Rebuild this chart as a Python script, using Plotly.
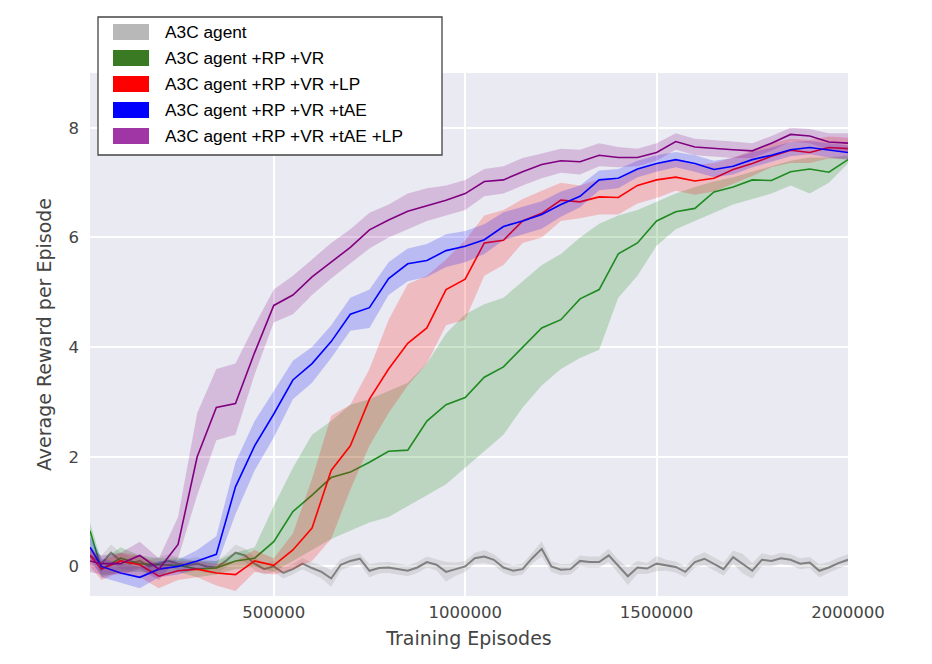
import plotly.graph_objects as go

# training steps (x) shared by the coloured runs, finer grid for the baseline
steps = [20000] + list(range(50000, 2000001, 50000))
steps_fine = [20000] + list(range(50000, 2000001, 25000))

# A3C agent (baseline) - mean and band half width
a3c_mean = [0.2, 0.05, 0.25, 0.1, 0.05, 0.1, 0.0, 0.05, 0.1, 0.05,
            0.02, 0.05, 0.0, -0.02, 0.1, 0.25, 0.2, 0.05, -0.05, 0.0,
            -0.12, -0.05, 0.05, -0.03, -0.1, -0.22, 0.03, 0.1, 0.14, -0.08,
            -0.03, -0.02, -0.05, -0.08, -0.02, 0.08, 0.03, -0.1, -0.05, 0.0,
            0.15, 0.18, 0.12, -0.02, -0.08, -0.05, 0.15, 0.32, 0.0, -0.06,
            -0.05, 0.1, 0.08, 0.08, 0.2, 0.0, -0.18, -0.02, -0.04, 0.05,
            0.02, -0.01, -0.1, 0.08, 0.14, 0.05, -0.05, 0.17, 0.05, -0.08,
            0.12, 0.1, 0.15, 0.12, 0.05, 0.07, -0.08, -0.02, 0.06, 0.12]
a3c_sd = [0.15, 0.15, 0.15, 0.15, 0.12, 0.12, 0.12, 0.12, 0.12, 0.12,
          0.12, 0.12, 0.12, 0.12, 0.12, 0.15, 0.12, 0.12, 0.1, 0.1,
          0.1, 0.1, 0.1, 0.1, 0.12, 0.15, 0.1, 0.1, 0.1, 0.12,
          0.1, 0.1, 0.1, 0.1, 0.1, 0.1, 0.1, 0.18, 0.12, 0.1,
          0.1, 0.12, 0.1, 0.1, 0.1, 0.1, 0.1, 0.14, 0.1, 0.1,
          0.1, 0.1, 0.1, 0.1, 0.12, 0.12, 0.16, 0.12, 0.1, 0.14,
          0.1, 0.1, 0.1, 0.1, 0.12, 0.12, 0.12, 0.12, 0.18, 0.14,
          0.12, 0.1, 0.1, 0.1, 0.1, 0.1, 0.12, 0.1, 0.1, 0.1]

# A3C agent +RP +VR
rpvr_mean = [0.65, -0.05, 0.15, 0.05, 0.03, 0.02, -0.05, -0.03, 0.1, 0.15,
             0.45, 1.0, 1.3, 1.62, 1.72, 1.9, 2.1, 2.12, 2.65, 2.95,
             3.08, 3.45, 3.64, 4.0, 4.35, 4.5, 4.88, 5.05, 5.7, 5.9,
             6.3, 6.47, 6.53, 6.83, 6.92, 7.05, 7.04, 7.2, 7.25, 7.19, 7.42]
rpvr_lo = [0.4, -0.2, -0.1, -0.1, -0.15, -0.1, -0.2, -0.15, -0.05, 0.0,
           -0.1, 0.1, 0.3, 0.5, 0.65, 0.8, 0.9, 1.1, 1.3, 1.5,
           1.8, 2.1, 2.4, 2.9, 3.3, 3.6, 3.8, 3.95, 4.9, 5.3,
           5.85, 6.15, 6.3, 6.45, 6.6, 6.7, 6.8, 6.95, 6.8, 7.0, 7.35]
rpvr_hi = [0.8, 0.1, 0.35, 0.2, 0.15, 0.15, 0.1, 0.1, 0.25, 0.35,
           1.1, 1.8, 2.4, 2.65, 2.95, 3.05, 3.2, 3.35, 3.7, 4.25,
           4.6, 4.78, 4.9, 5.2, 5.5, 5.7, 6.0, 6.25, 6.4, 6.5,
           6.65, 6.8, 6.92, 7.02, 7.1, 7.2, 7.3, 7.4, 7.46, 7.46, 7.5]

# A3C agent +RP +VR +LP
lp_mean = [0.2, -0.05, 0.1, 0.03, -0.18, -0.08, -0.05, -0.12, -0.15, 0.1,
           0.02, 0.3, 0.7, 1.75, 2.2, 3.05, 3.6, 4.07, 4.35, 5.05,
           5.24, 5.9, 5.95, 6.3, 6.44, 6.68, 6.65, 6.74, 6.73, 6.95,
           7.05, 7.1, 7.03, 7.08, 7.24, 7.35, 7.48, 7.59, 7.55, 7.64, 7.62]
lp_lo = [0.0, -0.25, -0.1, -0.2, -0.4, -0.25, -0.2, -0.35, -0.45, -0.1,
         -0.15, -0.05, 0.1, 0.5, 1.4, 2.2, 2.8, 3.3, 3.7, 4.4,
         4.5, 5.3, 5.5, 5.9, 6.0, 6.3, 6.35, 6.42, 6.42, 6.62,
         6.72, 6.85, 6.78, 6.84, 6.98, 7.12, 7.28, 7.36, 7.36, 7.44, 7.42]
lp_hi = [0.35, 0.1, 0.25, 0.2, 0.05, 0.1, 0.1, 0.05, 0.1, 0.3,
         0.15, 0.6, 1.6, 2.75, 2.95, 3.6, 4.5, 5.15, 5.3, 5.6,
         5.95, 6.4, 6.5, 6.7, 6.85, 7.0, 6.95, 7.06, 7.05, 7.25,
         7.35, 7.42, 7.32, 7.36, 7.46, 7.58, 7.72, 7.8, 7.78, 7.84, 7.82]

# A3C agent +RP +VR +tAE
tae_mean = [0.35, 0.0, -0.12, -0.2, -0.05, 0.0, 0.1, 0.22, 1.45, 2.2,
            2.78, 3.4, 3.7, 4.1, 4.6, 4.72, 5.25, 5.52, 5.58, 5.76,
            5.84, 5.96, 6.2, 6.3, 6.42, 6.6, 6.75, 7.05, 7.08, 7.25,
            7.35, 7.42, 7.35, 7.24, 7.3, 7.42, 7.5, 7.6, 7.64, 7.59, 7.55]
tae_lo = [0.15, -0.2, -0.3, -0.4, -0.2, -0.15, -0.05, 0.0, 0.95, 1.75,
          2.35, 3.05, 3.35, 3.8, 4.3, 4.35, 4.95, 5.2, 5.28, 5.46,
          5.55, 5.7, 5.95, 6.05, 6.16, 6.38, 6.55, 6.86, 6.9, 7.1,
          7.2, 7.28, 7.2, 7.1, 7.15, 7.28, 7.38, 7.48, 7.52, 7.46, 7.42]
tae_hi = [0.55, 0.15, 0.05, 0.0, 0.1, 0.12, 0.3, 0.55, 1.9, 2.65,
          3.2, 3.75, 4.0, 4.4, 4.9, 5.05, 5.55, 5.8, 5.88, 6.06,
          6.12, 6.24, 6.46, 6.56, 6.66, 6.84, 6.95, 7.22, 7.25, 7.4,
          7.5, 7.56, 7.5, 7.4, 7.45, 7.56, 7.64, 7.74, 7.76, 7.72, 7.68]

# A3C agent +RP +VR +tAE +LP
taelp_mean = [0.1, 0.05, 0.05, 0.2, -0.05, 0.4, 2.0, 2.9, 2.97, 3.9,
              4.76, 4.95, 5.28, 5.55, 5.82, 6.14, 6.32, 6.48, 6.58, 6.68,
              6.8, 7.02, 7.05, 7.2, 7.33, 7.4, 7.38, 7.5, 7.46, 7.46,
              7.55, 7.75, 7.65, 7.62, 7.6, 7.58, 7.72, 7.88, 7.85, 7.74, 7.72]
taelp_lo = [-0.1, -0.15, -0.15, -0.05, -0.25, 0.15, 1.3, 2.3, 2.4, 3.5,
            4.45, 4.6, 4.95, 5.25, 5.52, 5.8, 6.0, 6.15, 6.3, 6.4,
            6.5, 6.75, 6.8, 6.95, 7.08, 7.18, 7.15, 7.3, 7.28, 7.3,
            7.4, 7.6, 7.5, 7.48, 7.45, 7.45, 7.58, 7.75, 7.72, 7.6, 7.55]
taelp_hi = [0.3, 0.2, 0.25, 0.45, 0.15, 0.9, 2.8, 3.6, 3.7, 4.4,
            5.05, 5.3, 5.6, 5.9, 6.15, 6.45, 6.6, 6.8, 6.9, 6.95,
            7.05, 7.25, 7.3, 7.45, 7.53, 7.62, 7.6, 7.72, 7.65, 7.62,
            7.72, 7.9, 7.8, 7.78, 7.75, 7.72, 7.85, 8.0, 7.98, 7.9, 7.9]

labels = ["A3C agent", "A3C agent +RP +VR", "A3C agent +RP +VR +LP",
          "A3C agent +RP +VR +tAE", "A3C agent +RP +VR +tAE +LP"]
line_colors = ["#808080", "#1f8a1f", "#ff0000", "#0000ff", "#800080"]
band_colors = ["rgba(128,128,128,0.2)", "rgba(0,128,0,0.2)", "rgba(255,0,0,0.2)",
               "rgba(0,0,255,0.2)", "rgba(128,0,128,0.2)"]
patch_colors = ["#b8b8b8", "#3a7a22", "#ff0000", "#0000ff", "#a035a5"]

a3c_lo = [m - s for m, s in zip(a3c_mean, a3c_sd)]
a3c_hi = [m + s for m, s in zip(a3c_mean, a3c_sd)]

runs = [
    (steps_fine, a3c_mean, a3c_lo, a3c_hi),
    (steps, rpvr_mean, rpvr_lo, rpvr_hi),
    (steps, lp_mean, lp_lo, lp_hi),
    (steps, tae_mean, tae_lo, tae_hi),
    (steps, taelp_mean, taelp_lo, taelp_hi),
]

fig = go.Figure()
for i, (xs, mean, lo, hi) in enumerate(runs):
    fig.add_trace(go.Scatter(x=xs + xs[::-1], y=hi + lo[::-1], fill="toself",
                             fillcolor=band_colors[i], line=dict(width=0),
                             mode="lines", hoverinfo="skip", showlegend=False))
    fig.add_trace(go.Scatter(x=xs, y=mean, mode="lines", name=labels[i],
                             line=dict(color=line_colors[i],
                                       width=2 if i == 0 else 1.6),
                             showlegend=False))

# page puts the figure 8px in from the top-left corner, so margins allow for that
OFF = 8
L, R, T, B = 90, 848, 73, 596


def px(x):
    return (x - L) / (R - L)


def py(y):
    return (B - y) / (B - T)


shapes = [dict(type="rect", xref="paper", yref="paper", layer="above",
               x0=px(98), x1=px(442), y0=py(155), y1=py(17),
               fillcolor="white", line=dict(color="#444444", width=1.3))]
annotations = []
row_y = [32, 58, 84, 110, 136]
for i, lab in enumerate(labels):
    shapes.append(dict(type="rect", xref="paper", yref="paper", layer="above",
                       x0=px(113), x1=px(149), y0=py(row_y[i] + 8), y1=py(row_y[i] - 8),
                       fillcolor=patch_colors[i], line=dict(width=0)))
    annotations.append(dict(xref="paper", yref="paper", x=px(163), y=py(row_y[i]),
                            xanchor="left", yanchor="middle", text=lab, showarrow=False,
                            font=dict(family="Liberation Sans, Arial", size=17.3, color="black")))

fig.update_layout(
    width=932, height=664,
    margin=dict(l=L - OFF, r=932 - R + OFF, t=T - OFF, b=664 - B + OFF),
    paper_bgcolor="white", plot_bgcolor="#EAEAF2",
    font=dict(family="DejaVu Sans", size=16.5, color="#444444"),
    shapes=shapes, annotations=annotations,
    showlegend=False,
)
fig.update_xaxes(range=[20000, 2000000], tickvals=[500000, 1000000, 1500000, 2000000],
                 ticktext=["500000", "1000000", "1500000", "2000000"],
                 showgrid=True, gridcolor="white", gridwidth=1.5, zeroline=False,
                 showline=False, ticks="", ticklabelstandoff=4,
                 title=dict(text="Training Episodes", font=dict(size=19), standoff=11))
fig.update_yaxes(range=[-0.54, 9.0], tickvals=[0, 2, 4, 6, 8],
                 showgrid=True, gridcolor="white", gridwidth=1.5, zeroline=False,
                 showline=False, ticks="", ticklabelstandoff=10,
                 title=dict(text="Average Reward per Episode", font=dict(size=19), standoff=11))

fig.write_html("out.html")
